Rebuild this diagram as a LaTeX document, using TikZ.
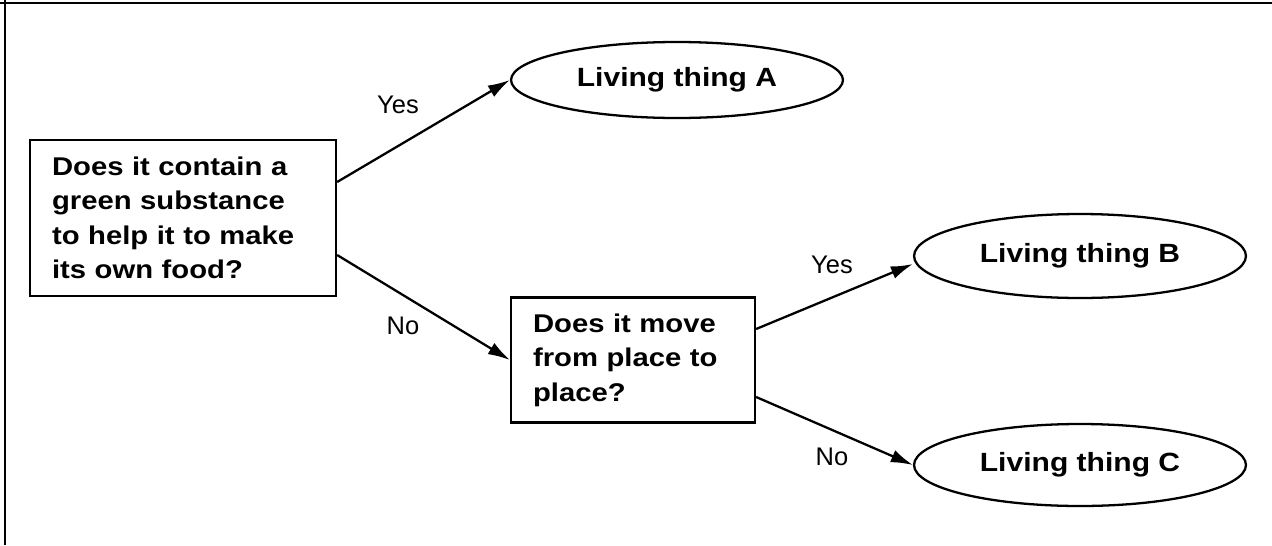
\documentclass[tikz,border=0pt]{standalone}
\usepackage{fontspec}
\setmainfont{Liberation Sans}
\newfontfamily\keyfont[FakeStretch=1.14]{Liberation Sans}
\usetikzlibrary{shapes.geometric, arrows.meta, positioning}

\begin{document}
\begin{tikzpicture}[x=0.02cm, y=-0.02cm,
    question/.style={draw, line width=1.3pt, rectangle, align=left, inner xsep=0.44cm,
      font=\keyfont\bfseries\fontsize{14.6}{19.6}\selectfont},
    answer/.style={draw, line width=1.3pt, ellipse, inner sep=0pt, minimum width=6.64cm,
      font=\keyfont\bfseries\fontsize{15}{18}\selectfont},
    branch/.style={line width=1.3pt, -{Latex[length=0.44cm, width=0.26cm]}},
    choice/.style={font=\fontsize{14.5}{16}\selectfont}]
  \useasboundingbox (0,0) rectangle (1272,545);
  \draw[line width=1.4pt] (0,3) -- (1272,3);
  \draw[line width=1.3pt] (5,0) -- (5,545);

  \node[question, text width=5.24cm, minimum height=3.12cm] (green) at (183,218)
    {Does it contain a\\green substance\\to help it to make\\its own food?};
  \node[question, text width=4.0cm, minimum height=2.5cm] (move) at (633,360)
    {Does it move\\from place to\\place?};
  \node[answer, minimum height=1.52cm] (thingA) at (677,80) {Living thing A};
  \node[answer, minimum height=1.68cm] (thingB) at (1080,256) {Living thing B};
  \node[answer, minimum height=1.64cm] (thingC) at (1080,465) {Living thing C};

  \draw[branch] ([yshift=0.72cm]green.east) -- (thingA.west);
  \draw[branch] ([yshift=-0.74cm]green.east) -- (move.west);
  \draw[branch] ([yshift=0.62cm]move.east) -- ([yshift=-0.16cm]thingB.west);
  \draw[branch] ([yshift=-0.74cm]move.east) -- (thingC.west);

  \node[choice] (yesA) at (398,105) {Yes};
  \node[choice] (noMove) at (403,326) {No};
  \node[choice] (yesB) at (832,265) {Yes};
  \node[choice] (noC) at (832,457) {No};
\end{tikzpicture}
\end{document}
